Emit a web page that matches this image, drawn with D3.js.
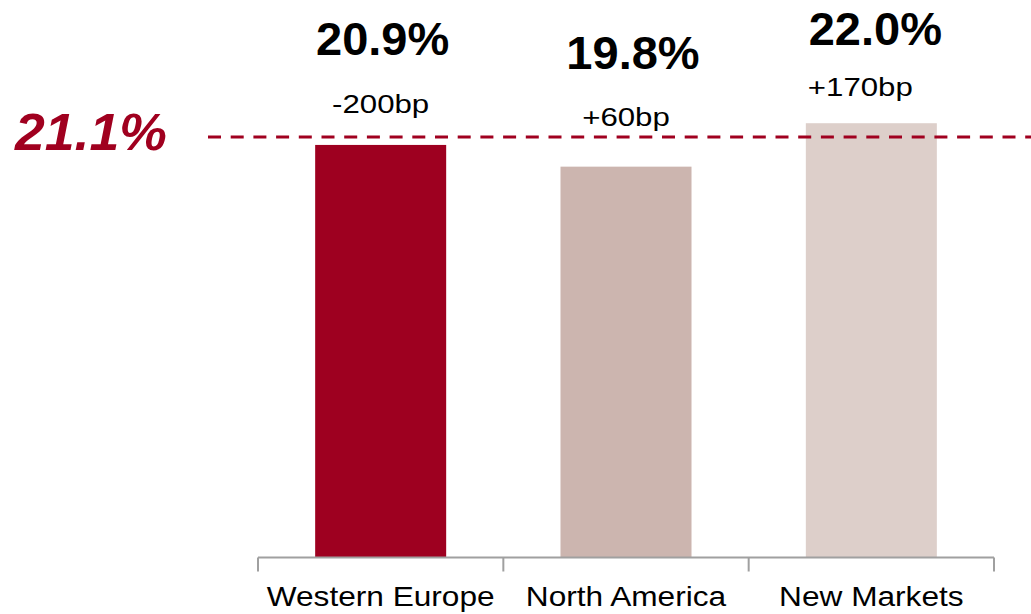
<!DOCTYPE html>
<html>
<head>
<meta charset="utf-8">
<script src="https://cdn.jsdelivr.net/npm/d3@7"></script>
<style>
  html, body { margin: 0; padding: 0; background: #fff; }
  svg { display: block; }
  text { font-family: "Liberation Sans", Arial, sans-serif; }
</style>
</head>
<body>
<svg id="chart" width="1031" height="614"></svg>
<script>
// ---- data ----
const categories = ["Western Europe", "North America", "New Markets"];
const values = [20.9, 19.8, 22.0];
const changes = ["-200bp", "+60bp", "+170bp"];
const benchmark = 21.1;
const benchmarkLabel = "21.1%";

// ---- layout / style ----
const barColors = ["#9E0020", "#CCB5AF", "#DDCFCA"];
const accent = "#A0001F";
const valueLabelLift = [90, 98, 78];   // px above bar top
const valueLabelShift = [2, 7, 4];     // px horizontal nudge
const changeLabelLift = [32, 41, 27];
const changeLabelShift = [0, 0, -11];

const svg = d3.select("#chart");
const W = 1031, H = 614;

const x = d3.scaleBand()
  .domain(categories)
  .range([258, 994])
  .paddingInner(0.466)
  .paddingOuter(0.233);

const y = d3.scaleLinear()
  .domain([0, 22])
  .range([557.5, 557.5 - 22 * 19.74]);

const data = categories.map((c, i) => ({ c, v: values[i], ch: changes[i], i }));

// bars
svg.append("g").selectAll("rect")
  .data(data)
  .join("rect")
  .attr("x", d => x(d.c))
  .attr("y", d => y(d.v))
  .attr("width", x.bandwidth())
  .attr("height", d => y(0) - y(d.v))
  .attr("fill", d => barColors[d.i]);

// benchmark dashed line
svg.append("line")
  .attr("x1", 208).attr("x2", W)
  .attr("y1", y(benchmark) - 4).attr("y2", y(benchmark) - 4)
  .attr("stroke", accent)
  .attr("stroke-width", 3)
  .attr("stroke-dasharray", "13,9.7");

svg.append("text")
  .attr("transform", `translate(15,${y(benchmark) + 9}) scale(1.03,1)`)
  .attr("font-size", 52)
  .attr("font-weight", "bold")
  .attr("font-style", "italic")
  .attr("fill", accent)
  .text(benchmarkLabel);

// axis
const step = x.step();
const gap = step - x.bandwidth();
const bounds = categories.map(c => x(c) - gap / 2);
bounds.push(x(categories[categories.length - 1]) + x.bandwidth() + gap / 2);
const axisG = svg.append("g");
axisG.append("line")
  .attr("x1", bounds[0]).attr("x2", bounds[bounds.length - 1])
  .attr("y1", y(0)).attr("y2", y(0))
  .attr("stroke", "#A0A0A0").attr("stroke-width", 2);
axisG.selectAll("line.tick")
  .data(bounds)
  .join("line")
  .attr("class", "tick")
  .attr("x1", d => d).attr("x2", d => d)
  .attr("y1", y(0)).attr("y2", y(0) + 14)
  .attr("stroke", "#A0A0A0").attr("stroke-width", 2);

// category labels
svg.append("g").selectAll("text")
  .data(data)
  .join("text")
  .attr("transform", d => `translate(${x(d.c) + x.bandwidth() / 2},606) scale(1.15,1)`)
  .attr("text-anchor", "middle")
  .attr("font-size", 27.5)
  .attr("fill", "#000")
  .text(d => d.c);

// value labels
svg.append("g").selectAll("text")
  .data(data)
  .join("text")
  .attr("x", d => x(d.c) + x.bandwidth() / 2 + valueLabelShift[d.i])
  .attr("y", d => y(d.v) - valueLabelLift[d.i])
  .attr("text-anchor", "middle")
  .attr("font-size", 47)
  .attr("font-weight", "bold")
  .attr("fill", "#000")
  .text(d => d3.format(".1f")(d.v) + "%");

// change labels
svg.append("g").selectAll("text")
  .data(data)
  .join("text")
  .attr("transform", d => `translate(${x(d.c) + x.bandwidth() / 2 + changeLabelShift[d.i]},${y(d.v) - changeLabelLift[d.i]}) scale(1.2,1)`)
  .attr("text-anchor", "middle")
  .attr("font-size", 26)
  .attr("fill", "#000")
  .text(d => d.ch);
</script>
</body>
</html>
